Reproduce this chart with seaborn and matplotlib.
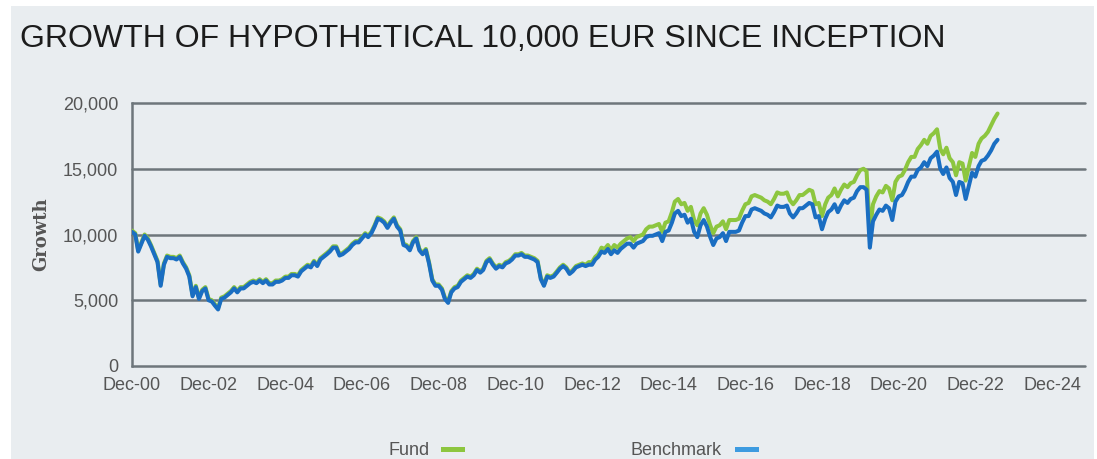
import numpy as np
import pandas as pd
import matplotlib
matplotlib.use("Agg")
import matplotlib.pyplot as plt
import matplotlib.dates as mdates
from matplotlib.patches import Rectangle
import seaborn as sns

# ================= DADOS =================
# month-end values, Dec 2000 .. Jul 2023
inicio = "2000-12-31"

benchmark = [
    10200,
    10000, 8700, 9300, 9900, 9600, 9100, 8500, 7900, 6100, 7700, 8300, 8200,
    8200, 8100, 8300, 7800, 7400, 6800, 5300, 6000, 5100, 5700, 5900, 5000,
    4900, 4600, 4300, 5100, 5200, 5400, 5600, 5900, 5600, 5900, 5900, 6100,
    6300, 6400, 6300, 6500, 6300, 6500, 6200, 6200, 6400, 6400, 6500, 6700,
    6700, 6900, 6900, 6800, 7200, 7400, 7600, 7500, 7900, 7600, 8100, 8300,
    8500, 8700, 9000, 9000, 8400, 8500, 8700, 8900, 9200, 9400, 9400, 9700,
    10000, 9800, 10100, 10600, 11200, 11100, 10900, 10500, 10900, 11200, 10600, 10300,
    9200, 9100, 8800, 9400, 9700, 8800, 8500, 8800, 7800, 6500, 6100, 6100,
    5800, 5100, 4800, 5600, 5900, 6000, 6400, 6600, 6800, 6700, 6900, 7300,
    7100, 7300, 7900, 8100, 7700, 7400, 7600, 7500, 7800, 7900, 8100, 8400,
    8400, 8500, 8300, 8300, 8200, 8100, 7900, 6600, 6100, 6800, 6700, 6800,
    7100, 7400, 7600, 7400, 7000, 7200, 7500, 7600, 7700, 7600, 7700, 7700,
    8100, 8300, 8700, 8600, 8900, 8500, 8800, 8600, 8900, 9100, 9300, 9300,
    9000, 9300, 9400, 9500, 9800, 9900, 9900, 10000, 10100, 9500, 10200, 10300,
    10900, 11600, 11800, 11400, 11500, 10900, 11200, 10200, 9800, 10700, 11100, 10600,
    9800, 9200, 9700, 9800, 10100, 9500, 10200, 10200, 10200, 10300, 10900, 11400,
    11400, 11900, 12000, 11900, 11800, 11600, 11500, 11300, 11700, 12200, 12100, 12100,
    12200, 11600, 11300, 11600, 12000, 12000, 12200, 12400, 12300, 11300, 11400, 10400,
    11200, 11700, 11900, 12300, 11700, 12200, 12600, 12400, 12700, 12800, 13300, 13600,
    13600, 13400, 9000, 11000, 11500, 11900, 11800, 12200, 12000, 11100, 12500, 12900,
    13000, 13400, 14000, 14400, 14400, 14900, 15100, 15500, 15200, 15800, 16000, 16300,
    15000, 14600, 15100, 14300, 14000, 13000, 14000, 13900, 12700, 13700, 14700, 14400,
    15200, 15600, 15700, 16000, 16400, 16900, 17200,
]

fund = [
    10300,
    10100, 8800, 9400, 10000, 9700, 9200, 8600, 8000, 6200, 7800, 8400, 8300,
    8300, 8200, 8400, 7900, 7500, 6900, 5400, 6100, 5200, 5800, 6000, 5100,
    5000, 4700, 4400, 5200, 5300, 5500, 5700, 6000, 5700, 6000, 6000, 6200,
    6400, 6500, 6400, 6600, 6400, 6600, 6300, 6300, 6500, 6500, 6600, 6800,
    6800, 7000, 7000, 6900, 7300, 7500, 7700, 7600, 8000, 7700, 8200, 8400,
    8600, 8800, 9100, 9100, 8500, 8600, 8800, 9000, 9300, 9500, 9500, 9800,
    10100, 9900, 10200, 10700, 11300, 11200, 11000, 10600, 11000, 11300, 10700, 10400,
    9300, 9200, 8900, 9500, 9800, 8900, 8600, 8900, 7900, 6600, 6200, 6200,
    5900, 5200, 4900, 5700, 6000, 6100, 6500, 6700, 6900, 6800, 7000, 7400,
    7200, 7400, 8000, 8200, 7800, 7500, 7700, 7600, 7900, 8000, 8200, 8500,
    8500, 8600, 8400, 8400, 8300, 8200, 8000, 6700, 6200, 6900, 6800, 6900,
    7200, 7500, 7700, 7500, 7100, 7300, 7600, 7700, 7800, 7700, 7900, 7900,
    8300, 8500, 9000, 8900, 9200, 8800, 9200, 9000, 9300, 9500, 9700, 9800,
    9500, 9800, 9900, 10000, 10400, 10600, 10600, 10700, 10800, 10200, 10900, 11000,
    11700, 12500, 12700, 12300, 12400, 11800, 12100, 11100, 10700, 11600, 12000, 11500,
    10700, 10100, 10600, 10700, 11000, 10400, 11100, 11100, 11100, 11200, 11800, 12300,
    12400, 12900, 13000, 12900, 12800, 12600, 12500, 12300, 12700, 13200, 13100, 13100,
    13200, 12600, 12300, 12600, 13000, 13000, 13200, 13400, 13300, 12300, 12400, 11400,
    12300, 12800, 13000, 13500, 12900, 13400, 13800, 13600, 13900, 14000, 14500, 14900,
    15000, 14800, 10200, 12300, 12900, 13300, 13200, 13700, 13500, 12600, 14000, 14400,
    14500, 14900, 15500, 15900, 15900, 16500, 16800, 17200, 16900, 17500, 17700, 18000,
    16500, 16100, 16600, 15800, 15500, 14500, 15500, 15400, 14100, 15200, 16200, 15900,
    16900, 17300, 17500, 17800, 18300, 18800, 19200,
]

series_nomes = ["Fund", "Benchmark"]
yticks = [0, 5000, 10000, 15000, 20000]
xtick_anos = list(range(2000, 2025, 2))

# ================= ESTILO =================
FUNDO = "#e9edf0"
GRADE = "#6e767b"
TEXTO = "#555555"
COR_LINHA = {"Fund": "#8dc63f", "Benchmark": "#1a6ec2"}
COR_LEGENDA = {"Fund": "#8dc63f", "Benchmark": "#3d9be0"}

sns.set_theme(style="white")
plt.rcParams["font.family"] = ["Liberation Sans", "DejaVu Sans"]

W, H = 1097, 459
fig = plt.figure(figsize=(W / 100, H / 100), dpi=100, facecolor="white")
fig.patches.append(Rectangle((11 / W, 0), (1094 - 11) / W, (H - 6) / H,
                             transform=fig.transFigure, facecolor=FUNDO,
                             edgecolor="none", zorder=-10))

ax = fig.add_axes([132 / W, 1 - 366 / H, (1085 - 132) / W, (366 - 103) / H])
ax.set_facecolor(FUNDO)

datas = pd.date_range(inicio, periods=len(benchmark), freq="ME")
df = pd.DataFrame({"date": datas, "Fund": fund, "Benchmark": benchmark})
df_long = df.melt(id_vars="date", value_vars=series_nomes,
                  var_name="series", value_name="value")

sns.lineplot(data=df_long, x="date", y="value", hue="series",
             hue_order=series_nomes, palette=COR_LINHA, linewidth=2.9,
             legend=False, errorbar=None, ax=ax, zorder=3)

ax.set_ylim(0, 20000)
ax.set_xlim(pd.Timestamp("2000-12-31"), pd.Timestamp("2025-11-10"))
ax.set_yticks(yticks)
ax.set_yticklabels([f"{v:,}" for v in yticks])
xt = [pd.Timestamp(f"{a}-12-31") for a in xtick_anos]
ax.set_xticks(xt)
ax.xaxis.set_major_formatter(mdates.DateFormatter("%b-%y"))

ax.grid(axis="y", color=GRADE, linewidth=1.8, zorder=1)
ax.grid(axis="x", visible=False)
for lado in ["top", "right", "bottom"]:
    ax.spines[lado].set_visible(False)
ax.spines["left"].set_color(GRADE)
ax.spines["left"].set_linewidth(1.8)
ax.tick_params(axis="y", length=0, pad=10, labelsize=13, labelcolor=TEXTO)
ax.tick_params(axis="x", length=5, width=1.5, color=GRADE, pad=3,
               labelsize=13, labelcolor=TEXTO)
ax.set_xlabel("")
ax.set_ylabel("")
for g in ax.get_ygridlines():
    g.set_clip_on(False)

fig.text(41 / W, 1 - 234 / H, "Growth", rotation=90, ha="center", va="center",
         fontsize=13, fontweight="bold", color=TEXTO,
         family=["DejaVu Serif"])

fig.text(20 / W, 1 - 47 / H, "GROWTH OF HYPOTHETICAL 10,000 EUR SINCE INCEPTION",
         ha="left", va="baseline", fontsize=23, color="#1c1c1c")

# legenda manual (texto antes da amostra)
for nome, x_txt, x_pat in [("Fund", 388, 441), ("Benchmark", 630, 735)]:
    fig.text(x_txt / W, 1 - 455 / H, nome, ha="left", va="baseline",
             fontsize=13, color=TEXTO)
    fig.patches.append(Rectangle((x_pat / W, 1 - 452 / H), 24 / W, 5 / H,
                                 transform=fig.transFigure,
                                 facecolor=COR_LEGENDA[nome], edgecolor="none"))

fig.savefig("out.png", dpi=100, facecolor="white")
